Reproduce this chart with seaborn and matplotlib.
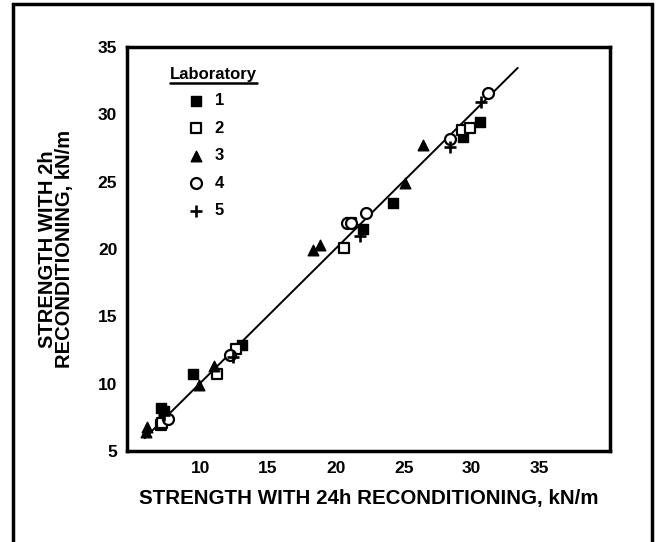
import matplotlib
matplotlib.use("Agg")
import matplotlib.pyplot as plt
import seaborn as sns
import pandas as pd
from matplotlib.patches import Rectangle
from matplotlib.lines import Line2D

# ---- data ----
lab1_x = [7.1, 7.3, 9.5, 13.1, 22.0, 24.2, 29.4, 30.6]
lab1_y = [8.2, 8.0, 10.7, 12.9, 21.5, 23.4, 28.3, 29.4]
lab2_x = [7.1, 7.2, 11.2, 12.6, 20.6, 21.1, 29.3, 29.9]
lab2_y = [6.9, 7.1, 10.7, 12.6, 20.1, 21.9, 28.8, 29.0]
lab3_x = [6.1, 6.0, 9.9, 11.0, 18.3, 18.8, 25.1, 26.4]
lab3_y = [6.8, 6.4, 9.9, 11.3, 19.9, 20.3, 24.9, 27.7]
lab4_x = [7.6, 12.2, 20.8, 21.1, 22.2, 28.4, 31.2]
lab4_y = [7.4, 12.1, 21.9, 21.9, 22.65, 28.2, 31.6]
lab5_x = [7.3, 12.4, 21.8, 28.4, 30.7]
lab5_y = [7.7, 12.0, 21.0, 27.6, 30.9]
fit_x = [5.9, 33.4]
fit_y = [5.95, 33.45]
x_ticks = [10, 15, 20, 25, 30, 35]
y_ticks = [5, 10, 15, 20, 25, 30, 35]
labs = ["1", "2", "3", "4", "5"]

sns.set_style("white")
plt.rcParams['font.family'] = ['Liberation Sans', 'DejaVu Sans']
plt.rcParams['font.weight'] = 'bold'
for k in ['text.color', 'axes.labelcolor', 'xtick.color', 'ytick.color', 'axes.edgecolor']:
    plt.rcParams[k] = 'black'

fig = plt.figure(figsize=(6.63, 5.42), dpi=100)
ax = fig.add_axes([127/663, (542-451)/542, 483/663, 404/542])

# outer frame of figure
fig.patches.append(Rectangle((13/663, -0.02), (652-13)/663, (542-4)/542 + 0.02,
                             transform=fig.transFigure, fill=False,
                             edgecolor='black', linewidth=2.5))

sns.lineplot(x=fit_x, y=fit_y, ax=ax, color='black', linewidth=1.4)

specs = [
    (lab1_x, lab1_y, dict(marker='s', s=50, facecolor='black', edgecolor='black', linewidth=1)),
    (lab2_x, lab2_y, dict(marker='s', s=42, facecolor='white', edgecolor='black', linewidth=1.6)),
    (lab3_x, lab3_y, dict(marker='^', s=58, facecolor='black', edgecolor='black', linewidth=1)),
    (lab4_x, lab4_y, dict(marker='o', s=62, facecolor='white', edgecolor='black', linewidth=1.6)),
    (lab5_x, lab5_y, dict(marker='+', s=85, color='black', linewidth=1.9)),
]
for (xs, ys, kw), lab in zip(specs, labs):
    df = pd.DataFrame({"x": xs, "y": ys})
    sns.scatterplot(data=df, x="x", y="y", ax=ax, label=lab, zorder=3, **kw)

ax.set_xlim(4.6, 40.2)
ax.set_ylim(5, 35)
ax.set_xticks(x_ticks)
ax.set_yticks(y_ticks)
ax.tick_params(direction='in', length=5, width=1.5, labelsize=12.5, pad=7)
for lbl in ax.get_xticklabels() + ax.get_yticklabels():
    lbl.set_fontweight('bold')
for sp in ax.spines.values():
    sp.set_linewidth(2.5)
    sp.set_color('black')

ax.set_xlabel("STRENGTH WITH 24h RECONDITIONING, kN/m", fontsize=14.8,
              fontweight='bold')
ax.set_ylabel("STRENGTH WITH 2h\nRECONDITIONING, kN/m", fontsize=14.5,
              fontweight='bold', linespacing=0.85)
ax.xaxis.set_label_coords(0.5, -0.094)
ax.yaxis.set_label_coords(-0.11, 0.5)

leg = ax.legend(loc='upper left', bbox_to_anchor=(0.116, 0.886), frameon=False,
                fontsize=12, handletextpad=0.3, handlelength=1.6,
                labelspacing=0.75, borderaxespad=0, borderpad=0)
for t in leg.get_texts():
    t.set_fontweight('bold')

title = ax.text(0.089, 0.933, "Laboratory", transform=ax.transAxes, fontsize=12,
                fontweight='bold', ha='left', va='center')

fig.canvas.draw()
tb = title.get_window_extent(fig.canvas.get_renderer())
inv = fig.transFigure.inverted()
(x0, y0), (x1, y1) = inv.transform([[tb.x0, tb.y0], [tb.x1, tb.y1]])
fig.lines.append(Line2D([x0, x1], [y0 - 0.002, y0 - 0.002], transform=fig.transFigure,
                        color='black', linewidth=1.8))

fig.savefig("out.png", dpi=100)
